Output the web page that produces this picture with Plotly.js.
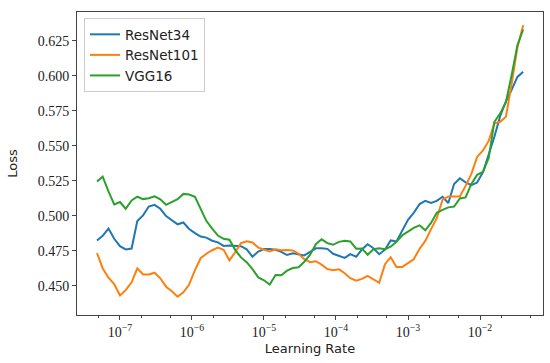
<!DOCTYPE html>
<html>
<head>
<meta charset="utf-8">
<script src="https://cdn.plot.ly/plotly-3.0.1.min.js"></script>
<style>html,body{margin:0;padding:0;background:#fff;}#chart{width:550px;height:363px;}</style>
</head>
<body>
<div id="chart"></div>
<script>
const learningRates = [
  4.79e-8, 5.75e-8, 6.92e-8, 8.32e-8, 1.00e-7, 1.20e-7, 1.45e-7, 1.74e-7, 2.09e-7, 2.51e-7,
  3.02e-7, 3.63e-7, 4.37e-7, 5.25e-7, 6.31e-7, 7.59e-7, 9.12e-7, 1.10e-6, 1.32e-6, 1.58e-6,
  1.91e-6, 2.29e-6, 2.75e-6, 3.31e-6, 3.98e-6,
  4.79e-6, 5.75e-6, 6.92e-6, 8.32e-6, 1.00e-5, 1.20e-5, 1.45e-5, 1.74e-5, 2.09e-5, 2.51e-5,
  3.02e-5, 3.63e-5, 4.37e-5, 5.25e-5, 6.31e-5, 7.59e-5, 9.12e-5, 1.10e-4, 1.32e-4, 1.58e-4,
  1.91e-4, 2.29e-4, 2.75e-4, 3.31e-4, 3.98e-4,
  4.79e-4, 5.75e-4, 6.92e-4, 8.32e-4, 1.00e-3, 1.20e-3, 1.45e-3, 1.74e-3, 2.09e-3, 2.51e-3,
  3.02e-3, 3.63e-3, 4.37e-3, 5.25e-3, 6.31e-3, 7.59e-3, 9.12e-3, 1.10e-2, 1.32e-2, 1.58e-2,
  1.91e-2, 2.29e-2, 2.75e-2, 3.31e-2, 3.98e-2
];

const resnet34Loss = [
  0.4825, 0.4858, 0.4910, 0.4837, 0.4784, 0.4761, 0.4767, 0.4963, 0.5004, 0.5067,
  0.5079, 0.5051, 0.4999, 0.4969, 0.4940, 0.4953, 0.4907, 0.4877, 0.4853, 0.4845,
  0.4823, 0.4811, 0.4786, 0.4789, 0.4784,
  0.4784, 0.4762, 0.4709, 0.4746, 0.4764, 0.4764, 0.4759, 0.4744, 0.4721, 0.4733,
  0.4728, 0.4718, 0.4744, 0.4769, 0.4770, 0.4765, 0.4730, 0.4715, 0.4701, 0.4727,
  0.4709, 0.4760, 0.4798, 0.4769, 0.4727,
  0.4759, 0.4825, 0.4818, 0.4898, 0.4972, 0.5022, 0.5085, 0.5107, 0.5092, 0.5107,
  0.5137, 0.5092, 0.5228, 0.5269, 0.5239, 0.5219, 0.5238, 0.5312, 0.5438, 0.5563,
  0.5713, 0.5817, 0.5899, 0.5992, 0.6028
];

const resnet101Loss = [
  0.4735, 0.4627, 0.4559, 0.4513, 0.4433, 0.4470, 0.4526, 0.4626, 0.4582, 0.4582,
  0.4595, 0.4555, 0.4495, 0.4463, 0.4424, 0.4455, 0.4510, 0.4613, 0.4698, 0.4730,
  0.4755, 0.4774, 0.4758, 0.4683, 0.4741,
  0.4806, 0.4819, 0.4810, 0.4774, 0.4760, 0.4747, 0.4762, 0.4755, 0.4756, 0.4754,
  0.4730, 0.4691, 0.4670, 0.4677, 0.4652, 0.4621, 0.4613, 0.4619, 0.4591, 0.4556,
  0.4538, 0.4551, 0.4572, 0.4545, 0.4523,
  0.4656, 0.4706, 0.4636, 0.4636, 0.4663, 0.4691, 0.4766, 0.4822, 0.4906, 0.4984,
  0.5115, 0.5139, 0.5139, 0.5138, 0.5214, 0.5300, 0.5421, 0.5467, 0.5535, 0.5659,
  0.5672, 0.5708, 0.5940, 0.6204, 0.6361
];

const vgg16Loss = [
  0.5245, 0.5280, 0.5175, 0.5082, 0.5099, 0.5051, 0.5110, 0.5137, 0.5120, 0.5126,
  0.5140, 0.5118, 0.5079, 0.5100, 0.5119, 0.5157, 0.5153, 0.5136, 0.5047, 0.4965,
  0.4909, 0.4860, 0.4837, 0.4830, 0.4758,
  0.4704, 0.4670, 0.4620, 0.4561, 0.4541, 0.4511, 0.4578, 0.4577, 0.4609, 0.4628,
  0.4634, 0.4673, 0.4723, 0.4798, 0.4833, 0.4806, 0.4794, 0.4815, 0.4823, 0.4818,
  0.4766, 0.4768, 0.4723, 0.4762, 0.4769,
  0.4762, 0.4780, 0.4815, 0.4862, 0.4888, 0.4915, 0.4933, 0.4897, 0.4950, 0.5022,
  0.5043, 0.5061, 0.5067, 0.5125, 0.5132, 0.5228, 0.5293, 0.5314, 0.5413, 0.5670,
  0.5732, 0.5812, 0.6004, 0.6218, 0.6330
];

const seriesNames = ["ResNet34", "ResNet101", "VGG16"];
const seriesColors = ["#1f77b4", "#ff7f0e", "#2ca02c"];
const xTickVals = [1e-7, 1e-6, 1e-5, 1e-4, 1e-3, 1e-2];
const xTickText = ["10<sup>\u22127</sup>", "10<sup>\u22126</sup>", "10<sup>\u22125</sup>", "10<sup>\u22124</sup>", "10<sup>\u22123</sup>", "10<sup>\u22122</sup>"];
const yTickVals = [0.450, 0.475, 0.500, 0.525, 0.550, 0.575, 0.600, 0.625];
const yTickText = ["0.450", "0.475", "0.500", "0.525", "0.550", "0.575", "0.600", "0.625"];

const allLoss = [resnet34Loss, resnet101Loss, vgg16Loss];
const traces = allLoss.map((ys, k) => ({
  type: "scatter",
  mode: "lines",
  x: learningRates,
  y: ys,
  name: seriesNames[k],
  line: {color: seriesColors[k], width: 2}
}));

const tickFont = {family: "Liberation Serif", size: 14, color: "#222"};
const titleFont = {family: "DejaVu Sans", size: 13, color: "#222"};

const layout = {
  width: 550,
  height: 363,
  margin: {l: 77, r: 7, t: 12, b: 48},
  paper_bgcolor: "#fff",
  plot_bgcolor: "#fff",
  showlegend: true,
  legend: {
    x: 0.015, y: 0.98, xanchor: "left", yanchor: "top",
    bgcolor: "rgba(255,255,255,0.9)", bordercolor: "#cccccc", borderwidth: 1,
    font: {family: "DejaVu Sans", size: 13.5, color: "#222"},
    tracegroupgap: 0
  },
  xaxis: {
    type: "log",
    range: [-7.597, -1.125],
    showgrid: false, zeroline: false,
    showline: true, mirror: true, linecolor: "#444", linewidth: 1,
    ticks: "outside", ticklen: 4, tickcolor: "#444", tickwidth: 1,
    tickvals: xTickVals, ticktext: xTickText,
    tickfont: tickFont,
    minor: {ticks: "outside", ticklen: 2, tickcolor: "#444", showgrid: false},
    title: {text: "Learning Rate", font: titleFont, standoff: 5},
    automargin: false
  },
  yaxis: {
    range: [0.4293, 0.6455],
    showgrid: false, zeroline: false,
    showline: true, mirror: true, linecolor: "#444", linewidth: 1,
    ticks: "outside", ticklen: 4, tickcolor: "#444", tickwidth: 1,
    tickvals: yTickVals, ticktext: yTickText,
    tickfont: tickFont,
    title: {text: "Loss", font: titleFont, standoff: 17},
    automargin: false
  }
};

Plotly.newPlot("chart", traces, layout, {staticPlot: true, displayModeBar: false});
</script>
</body>
</html>
